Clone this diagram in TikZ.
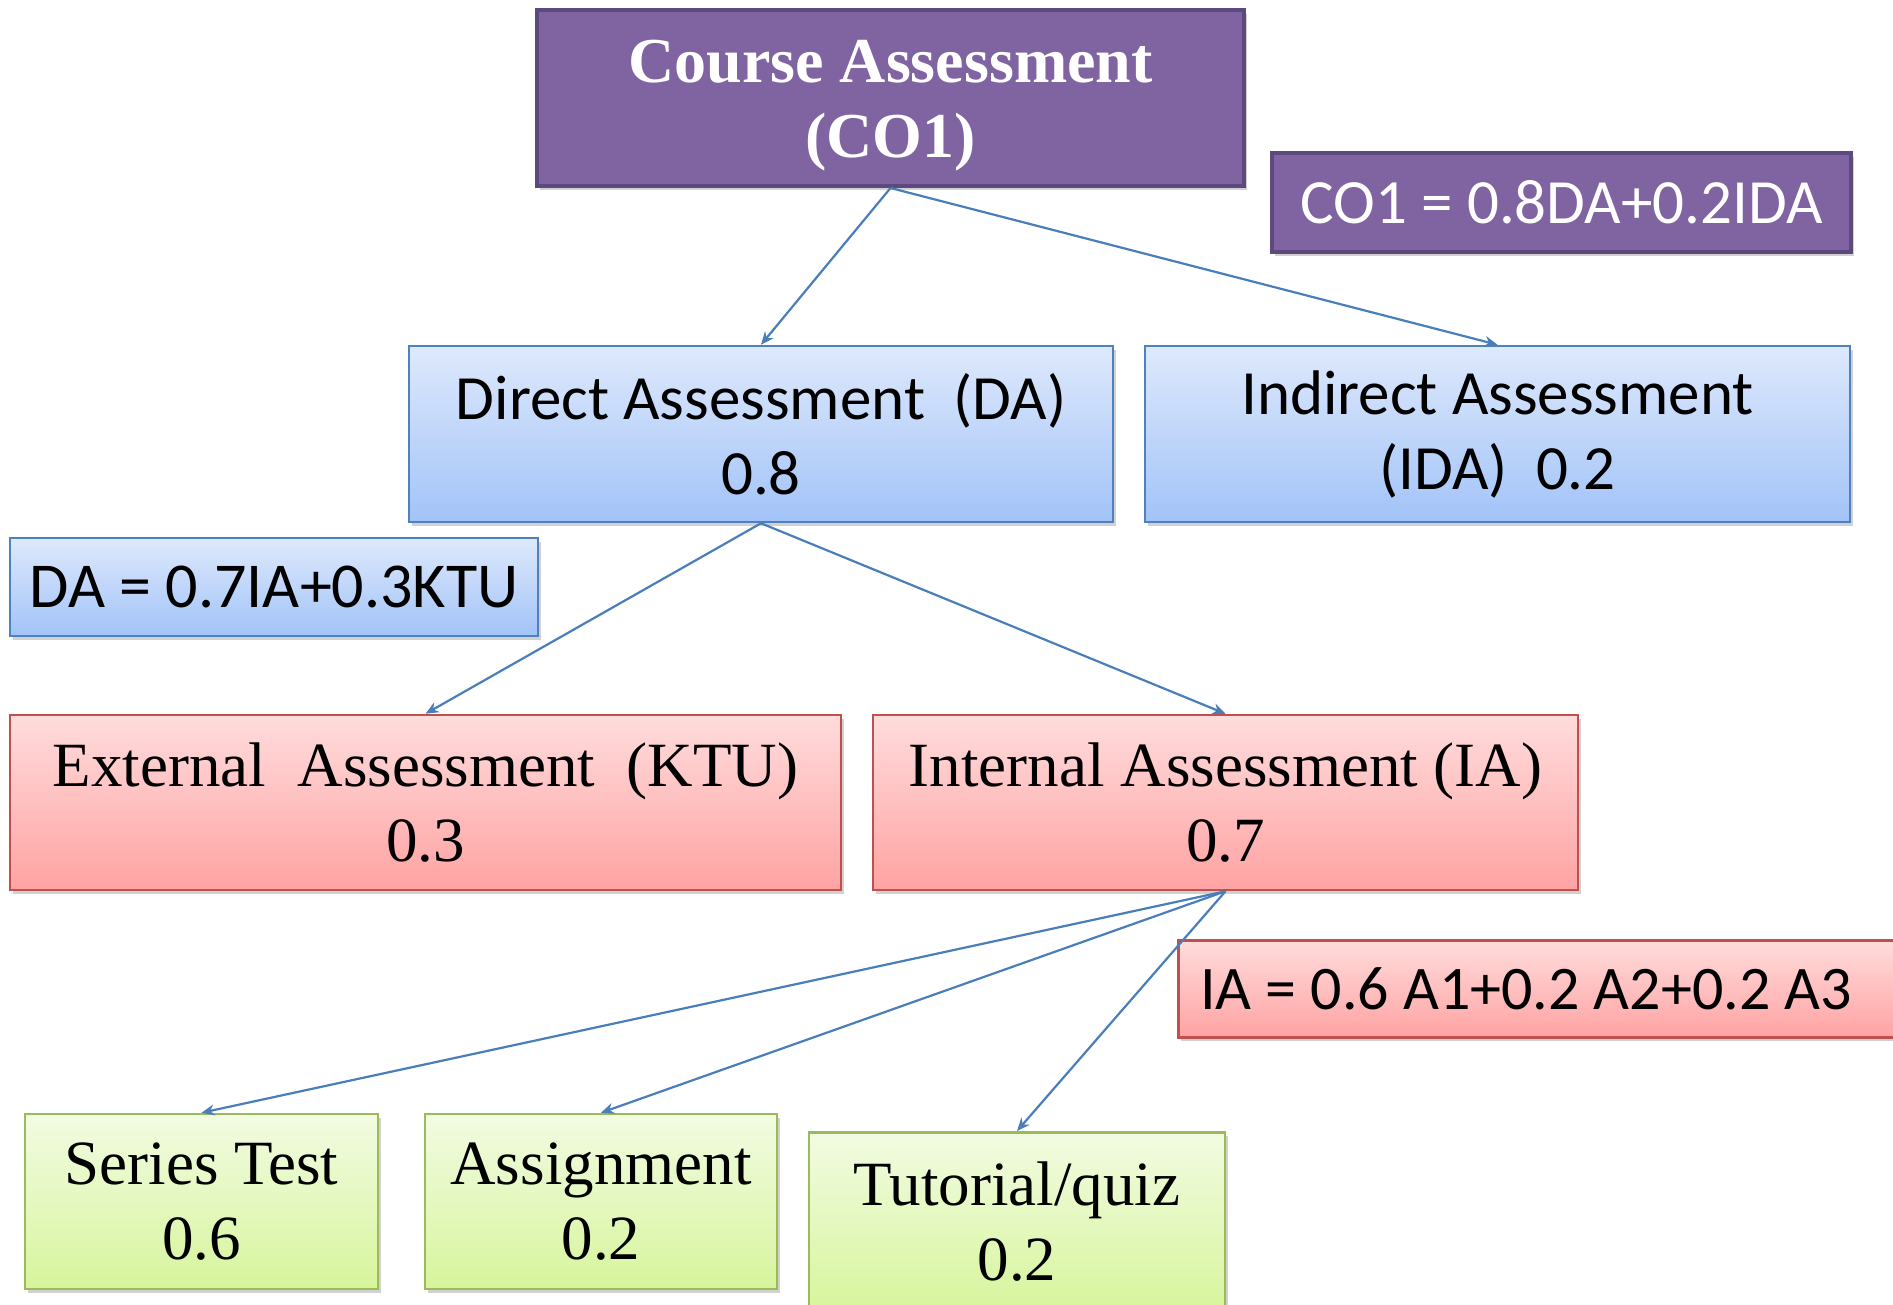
\documentclass[tikz,border=0pt]{standalone}
\usepackage{fontspec}
\setmainfont{Liberation Serif}
\newfontfamily\calib{Carlito}
\usetikzlibrary{arrows.meta,shadows}
\definecolor{purp}{HTML}{8064A2}
\definecolor{purpd}{HTML}{5C4A7E}
\definecolor{blueT}{HTML}{DEE9FC}
\definecolor{blueB}{HTML}{A2C3F8}
\definecolor{blueD}{HTML}{4F81BD}
\definecolor{redT}{HTML}{FFDCDC}
\definecolor{redB}{HTML}{FFA3A3}
\definecolor{redD}{HTML}{C0504D}
\definecolor{grnT}{HTML}{F2FBE2}
\definecolor{grnB}{HTML}{D7F59C}
\definecolor{grnD}{HTML}{9BBB59}
\definecolor{arr}{HTML}{4A7EBB}
\tikzset{
  base/.style={rectangle, align=center, inner sep=0pt,
    drop shadow={shadow xshift=3pt, shadow yshift=-4pt, opacity=.3, fill=black!60},
    font=\fontsize{63}{75}\selectfont},
  purpbox/.style={base, fill=purp, draw=purpd, line width=4pt, text=white},
  bluebox/.style={base, top color=blueT, bottom color=blueB, draw=blueD, line width=2.5pt},
  redbox/.style={base, top color=redT, bottom color=redB, draw=redD, line width=2.5pt},
  grnbox/.style={base, top color=grnT, bottom color=grnB, draw=grnD, line width=2.5pt},
  conn/.style={draw=arr, line width=2.2pt, -{Stealth[length=13pt,width=11pt]}}
}
\begin{document}
\begin{tikzpicture}[x=1pt,y=-1pt]
\useasboundingbox (0,0) rectangle (1893,1305);
\clip (0,0) rectangle (1893,1305);

\node[purpbox, minimum width=707, minimum height=176, font=\fontsize{64}{75}\selectfont\bfseries] (co) at (890.5,98) {\rule{0pt}{58pt}Course Assessment\\(CO1)};
\node[purpbox, minimum width=579, minimum height=99, font=\fontsize{63}{75}\selectfont\calib] (cof) at (1561.5,202.5) {CO1 = 0.8DA+0.2IDA};

\node[bluebox, minimum width=704, minimum height=176, font=\fontsize{63}{75}\selectfont\calib] (da) at (761,434) {Direct Assessment\ \ (DA)\\0.8};
\node[bluebox, minimum width=705, minimum height=176, font=\fontsize{63}{75}\selectfont\calib] (ida) at (1497.5,434) {Indirect Assessment\\(IDA)\ \ 0.2};
\node[bluebox, minimum width=528, minimum height=98, font=\fontsize{64}{75}\selectfont\calib] (daf) at (274,587) {DA = 0.7IA+0.3KTU};

\node[redbox, minimum width=831, minimum height=175] (ktu) at (425.5,802.5) {External\ \ Assessment\ \ (KTU)\\0.3};
\node[redbox, minimum width=705, minimum height=175] (ia) at (1225.5,802.5) {Internal Assessment (IA)\\0.7};
\node[redbox, anchor=north west, minimum height=97, minimum width=740, font=\fontsize{62}{75}\selectfont\calib] (iaf) at (1177,939) {\makebox[696pt][l]{IA = 0.6 A1+0.2 A2+0.2 A3}};

\node[grnbox, minimum width=353, minimum height=175] (st) at (201.5,1201.5) {Series Test\\0.6};
\node[grnbox, minimum width=352, minimum height=175] (as) at (601,1201.5) {Assignment\\0.2};
\node[grnbox, anchor=north, minimum width=416, minimum height=178] (tq) at (1017,1131) {Tutorial/quiz\\0.2};

\draw[conn] (co.south) -- (da.north);
\draw[conn] (co.south) -- (ida.north);
\draw[conn] (da.south) -- (ktu.north);
\draw[conn] (da.south) -- (ia.north);
\draw[conn] (ia.south) -- (st.north);
\draw[conn] (ia.south) -- (as.north);
\draw[conn] (ia.south) -- (tq.north);
\end{tikzpicture}
\end{document}
